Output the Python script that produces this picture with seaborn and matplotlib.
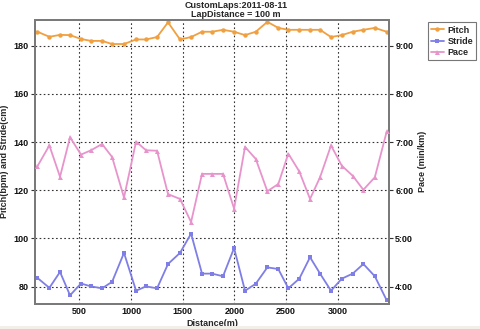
import matplotlib
matplotlib.use("Agg")
import matplotlib.pyplot as plt
import matplotlib.ticker as mticker
from matplotlib.lines import Line2D
from matplotlib.patches import Rectangle
import seaborn as sns
import pandas as pd

# ---- data ----
distance = [95, 210, 313, 410, 516, 613, 720, 817, 932, 1049, 1145, 1252, 1358,
            1474, 1581, 1687, 1784, 1890, 1997, 2103, 2207, 2319, 2425, 2522,
            2628, 2732, 2829, 2935, 3039, 3145, 3248, 3359, 3474]
pitch = [185.8, 183.7, 184.5, 184.4, 182.8, 182.0, 182.0, 180.7, 180.7, 182.6,
         182.6, 183.6, 189.7, 182.6, 183.6, 185.8, 185.8, 186.6, 185.8, 184.4,
         185.8, 189.9, 187.4, 186.6, 186.6, 186.6, 186.6, 183.6, 184.4, 185.8,
         186.6, 187.4, 185.8]
stride = [83.6, 79.5, 86.1, 76.4, 81.3, 80.1, 79.3, 82.0, 94.0, 78.3, 80.1,
          79.3, 89.4, 94.0, 102.0, 85.4, 85.4, 84.3, 96.0, 78.3, 81.2, 88.0,
          87.3, 79.3, 83.3, 92.2, 85.4, 78.3, 83.3, 85.4, 89.4, 84.3, 74.3]
pace = [6.50, 6.93, 6.28, 7.10, 6.74, 6.83, 6.96, 6.69, 5.85, 7.01, 6.83,
        6.82, 5.92, 5.82, 5.34, 6.34, 6.34, 6.34, 5.62, 6.90, 6.65, 5.98,
        6.13, 6.76, 6.39, 5.82, 6.27, 6.93, 6.51, 6.30, 6.01, 6.27, 7.22]

x_ticks = [500, 1000, 1500, 2000, 2500, 3000]
left_ticks = [80, 100, 120, 140, 160, 180]
pace_ticks = [4, 5, 6, 7, 8, 9]

title = "CustomLaps:2011-08-11\nLapDistance = 100 m"
xlabel = "Distance(m)"
ylabel_left = "Pitch(bpm) and Stride(cm)"
ylabel_right = "Pace (min/km)"

# ---- styling ----
sns.set_theme(style="white")
plt.rcParams['font.family'] = ['Liberation Sans', 'DejaVu Sans']
plt.rcParams['font.weight'] = 'bold'

c_pitch = '#F0A040'
c_stride = '#7E7EE6'
c_pace = '#E894CC'
spine_c = '#7a7a7a'
fs = 6.5

fig = plt.figure(figsize=(4.8, 3.29), dpi=100)
fig.patch.set_facecolor('white')
W, H = 480, 329
L, R, T, B = 35, 389, 19.7, 303.5
ax = fig.add_axes([L / W, 1 - B / H, (R - L) / W, (B - T) / H])
ax.set_facecolor('white')

df = pd.DataFrame({
    'Distance': distance * 2,
    'value': pitch + stride,
    'series': ['Pitch'] * len(pitch) + ['Stride'] * len(stride),
})
sns.lineplot(data=df, x='Distance', y='value', hue='series', style='series',
             palette={'Pitch': c_pitch, 'Stride': c_stride},
             markers={'Pitch': 'o', 'Stride': 's'}, dashes=False,
             markersize=3.2, markeredgewidth=0, linewidth=1.3,
             ax=ax, legend=False, zorder=3)

ylo, yhi = 73.0, 190.8
ax.set_ylim(ylo, yhi)
ax.set_xlim(71, 3496)
ax.set_xticks(x_ticks)
ax.set_yticks(left_ticks)

ax2 = ax.twinx()
dfp = pd.DataFrame({'Distance': distance, 'Pace': pace})
sns.lineplot(data=dfp, x='Distance', y='Pace', color=c_pace, marker='^',
             markersize=3.6, markeredgewidth=0, linewidth=1.3, ax=ax2,
             zorder=3)
ax2.set_ylim(4 + (ylo - 80) / 20, 4 + (yhi - 80) / 20)
ax2.set_yticks(pace_ticks)
ax2.yaxis.set_major_formatter(
    mticker.FuncFormatter(lambda v, p: f"{int(v)}:{int(round((v % 1) * 60)):02d}"))

# grid
ax.grid(True, color='#333333', linestyle=(0, (1.5, 2.2)), linewidth=0.8)
ax.set_axisbelow(True)
ax2.grid(False)

for a in (ax, ax2):
    for s in a.spines.values():
        s.set_color(spine_c)
        s.set_linewidth(1.4)
    a.tick_params(axis='both', labelsize=fs, length=3, width=0.8,
                  color='#333333', pad=1.5, labelcolor='#111111')
ax.tick_params(axis='x', length=0, pad=2.5)
ax.tick_params(axis='y', left=True, right=False)
ax2.tick_params(axis='y', right=True, left=False)
for lab in ax.get_xticklabels() + ax.get_yticklabels() + ax2.get_yticklabels():
    lab.set_fontweight('bold')

ax.set_xlabel(xlabel, fontsize=fs, fontweight='bold', labelpad=2)
ax.set_ylabel(ylabel_left, fontsize=fs, fontweight='bold', labelpad=3)
ax2.set_ylabel(ylabel_right, fontsize=fs, fontweight='bold', labelpad=3)

fig.text(0.492, 1 - 0.8 / H, title, ha='center', va='top', fontsize=fs,
         fontweight='bold', linespacing=1.0)

handles = [
    Line2D([], [], color=c_pitch, marker='o', markersize=3.2, lw=1.3, markeredgewidth=0),
    Line2D([], [], color=c_stride, marker='s', markersize=3.2, lw=1.3, markeredgewidth=0),
    Line2D([], [], color=c_pace, marker='^', markersize=3.6, lw=1.3, markeredgewidth=0),
]
leg = fig.legend(handles, ['Pitch', 'Stride', 'Pace'], loc='upper left',
                 bbox_to_anchor=(428 / W, 1 - 22.5 / H), fontsize=fs,
                 frameon=True, fancybox=False, handlelength=1.4,
                 handletextpad=0.4, labelspacing=0.25, borderpad=0.35,
                 borderaxespad=0)
leg.get_frame().set_edgecolor('#555555')
leg.get_frame().set_linewidth(0.8)
for t in leg.get_texts():
    t.set_fontweight('bold')

fig.patches.append(Rectangle((0, 0), 1, 3.5 / H, transform=fig.transFigure,
                             facecolor='#F1EFE7', edgecolor='none', zorder=0))

fig.savefig('out.png', dpi=100)
